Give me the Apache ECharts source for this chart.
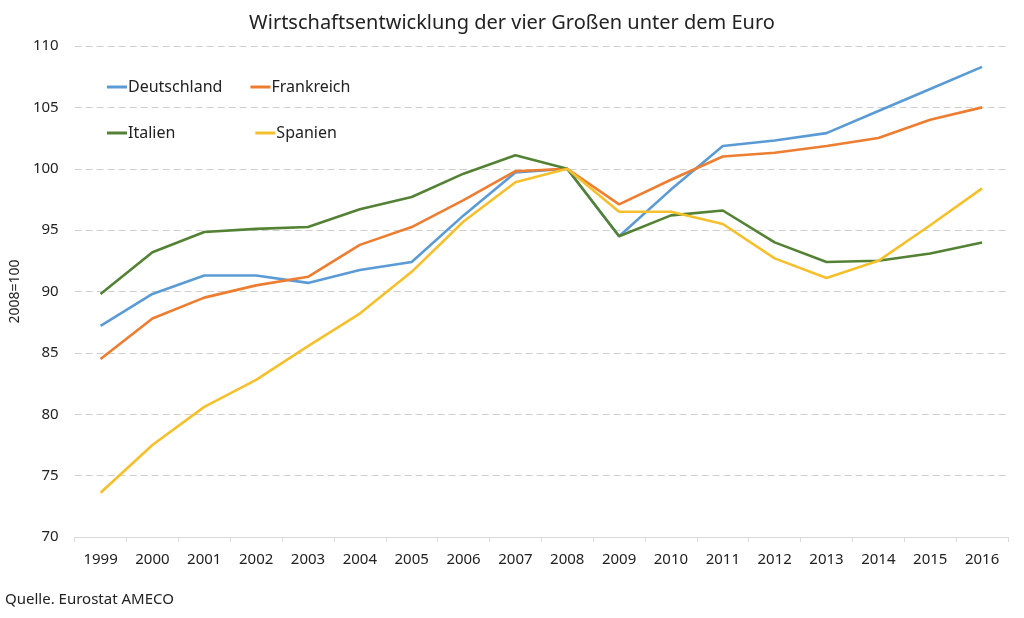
<!DOCTYPE html>
<html><head><meta charset="utf-8">
<script src="https://cdn.jsdelivr.net/npm/echarts@6/dist/echarts.min.js"></script>
<style>html,body{margin:0;padding:0;background:#fff}#c{width:1024px;height:618px}</style>
</head><body><div id="c"></div>
<script>
const years = ['1999','2000','2001','2002','2003','2004','2005','2006','2007','2008','2009','2010','2011','2012','2013','2014','2015','2016'];
const deutschland = [87.2, 89.8, 91.3, 91.3, 90.7, 91.75, 92.4, 96.2, 99.7, 100, 94.5, 98.3, 101.85, 102.3, 102.9, 104.7, 106.5, 108.3];
const frankreich = [84.5, 87.8, 89.5, 90.5, 91.2, 93.8, 95.25, 97.45, 99.8, 100, 97.1, 99.1, 101.0, 101.3, 101.85, 102.5, 104.0, 105.0];
const italien = [89.8, 93.2, 94.85, 95.1, 95.25, 96.7, 97.7, 99.6, 101.1, 100, 94.5, 96.2, 96.6, 94.0, 92.4, 92.5, 93.1, 94.0];
const spanien = [73.6, 77.5, 80.6, 82.8, 85.55, 88.2, 91.6, 95.7, 98.9, 100, 96.5, 96.5, 95.5, 92.7, 91.1, 92.5, 95.4, 98.4];
const yTicks = {min: 70, max: 110, interval: 5};

const font = 'Noto Sans';
const colors = ['#5b9bd5', '#ed7d31', '#548235', '#f5c02c'];
const chart = echarts.init(document.getElementById('c'));
const mk = (name, data, i) => ({
  name, type: 'line', data, symbol: 'none', smooth: false,
  lineStyle: {width: 2.6, color: colors[i]}, itemStyle: {color: colors[i]}
});
chart.setOption({
  animation: false,
  title: {text: 'Wirtschaftsentwicklung der vier Großen unter dem Euro', left: 'center', top: 8,
    textStyle: {fontFamily: font, fontSize: 20, fontWeight: 'normal', color: '#222'}},
  legend: [
    {data: ['Deutschland', 'Frankreich'], left: 107, top: 79, padding: 0, icon: 'rect', itemWidth: 20, itemHeight: 3, itemGap: 28,
     textStyle: {fontFamily: font, fontSize: 16, color: '#222', padding: [0,0,0,-4]}},
    {data: ['Italien', 'Spanien'], left: 107, top: 125, padding: 0, icon: 'rect', itemWidth: 20, itemHeight: 3, itemGap: 80,
     textStyle: {fontFamily: font, fontSize: 16, color: '#222', padding: [0,0,0,-4]}}
  ],
  grid: {left: 74, right: 16, top: 46, bottom: 81, containLabel: false},
  xAxis: {type: 'category', data: years, boundaryGap: true,
    axisLine: {lineStyle: {color: '#d9d9d9', width: 1}},
    axisTick: {show: true, lineStyle: {color: '#d9d9d9'}, length: 5},
    axisLabel: {fontFamily: font, fontSize: 15, color: '#222', margin: 15}},
  yAxis: {type: 'value', min: yTicks.min, max: yTicks.max, interval: yTicks.interval,
    name: '2008=100', nameLocation: 'middle', nameGap: 52, nameRotate: 90,
    nameTextStyle: {fontFamily: font, fontSize: 14, color: '#222'},
    axisLine: {show: false}, axisTick: {show: false},
    axisLabel: {fontFamily: font, fontSize: 15, color: '#222', margin: 16},
    splitLine: {lineStyle: {color: '#cfcfcf', type: [7, 4], width: 1}}},
  graphic: [{type: 'text', left: 5, top: 592, style: {text: 'Quelle. Eurostat AMECO', fontFamily: font, fontSize: 15, fill: '#222'}}],
  series: [mk('Deutschland', deutschland, 0), mk('Frankreich', frankreich, 1), mk('Italien', italien, 2), mk('Spanien', spanien, 3)]
});
</script></body></html>
